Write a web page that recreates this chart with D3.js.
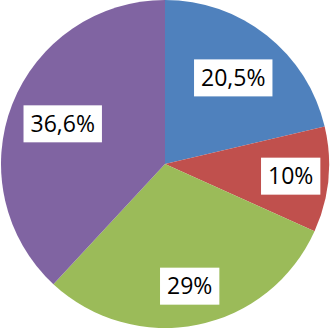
<!DOCTYPE html>
<html>
  <head>
    <script src="https://d3js.org/d3.v7.min.js"></script>
    <style>
      body { margin: 0; background: #fff; }
      text { font-family: "Open Sans", sans-serif; }
    </style>
  </head>
  <body>
    <svg width="333" height="330"></svg>
    <script>
      // slice values, clockwise from 12 o'clock
      var labels = ["20,5%", "10%", "29%", "36,6%"];
      var values = [20.5, 10, 29, 36.6];
      var colors = ["#4F81BD", "#C0504D", "#9BBB59", "#8064A2"];

      var cx = 165, cy = 164, R = 164;
      // how far out (fraction of radius) each label box sits
      var labelPos = [0.67, 0.77, 0.76, 0.67];

      var pie = d3.pie().sort(null).value(d => d);
      var arcs = pie(values);

      var arc = d3.arc().innerRadius(0).outerRadius(R);

      var svg = d3.select("svg");
      var g = svg.append("g").attr("transform", "translate(" + cx + "," + cy + ")");

      g.selectAll("path")
        .data(arcs)
        .enter()
        .append("path")
        .attr("d", arc)
        .style("fill", (d, i) => colors[i]);

      var lab = g.selectAll("g.lab")
        .data(arcs)
        .enter()
        .append("g")
        .attr("class", "lab")
        .attr("transform", (d, i) => {
          var r = R * labelPos[i];
          var c = d3.arc().innerRadius(r).outerRadius(r).centroid(d);
          return "translate(" + c[0] + "," + c[1] + ")";
        });

      lab.append("rect").attr("fill", "#fff");

      lab.append("text")
        .attr("text-anchor", "middle")
        .attr("dy", "0.36em")
        .style("font-size", "23px")
        .style("fill", "#000")
        .text((d, i) => labels[i]);

      lab.each(function () {
        var bb = d3.select(this).select("text").node().getBBox();
        d3.select(this).select("rect")
          .attr("x", bb.x - 7)
          .attr("y", -18.5)
          .attr("width", bb.width + 14)
          .attr("height", 37);
      });
    </script>
  </body>
</html>
